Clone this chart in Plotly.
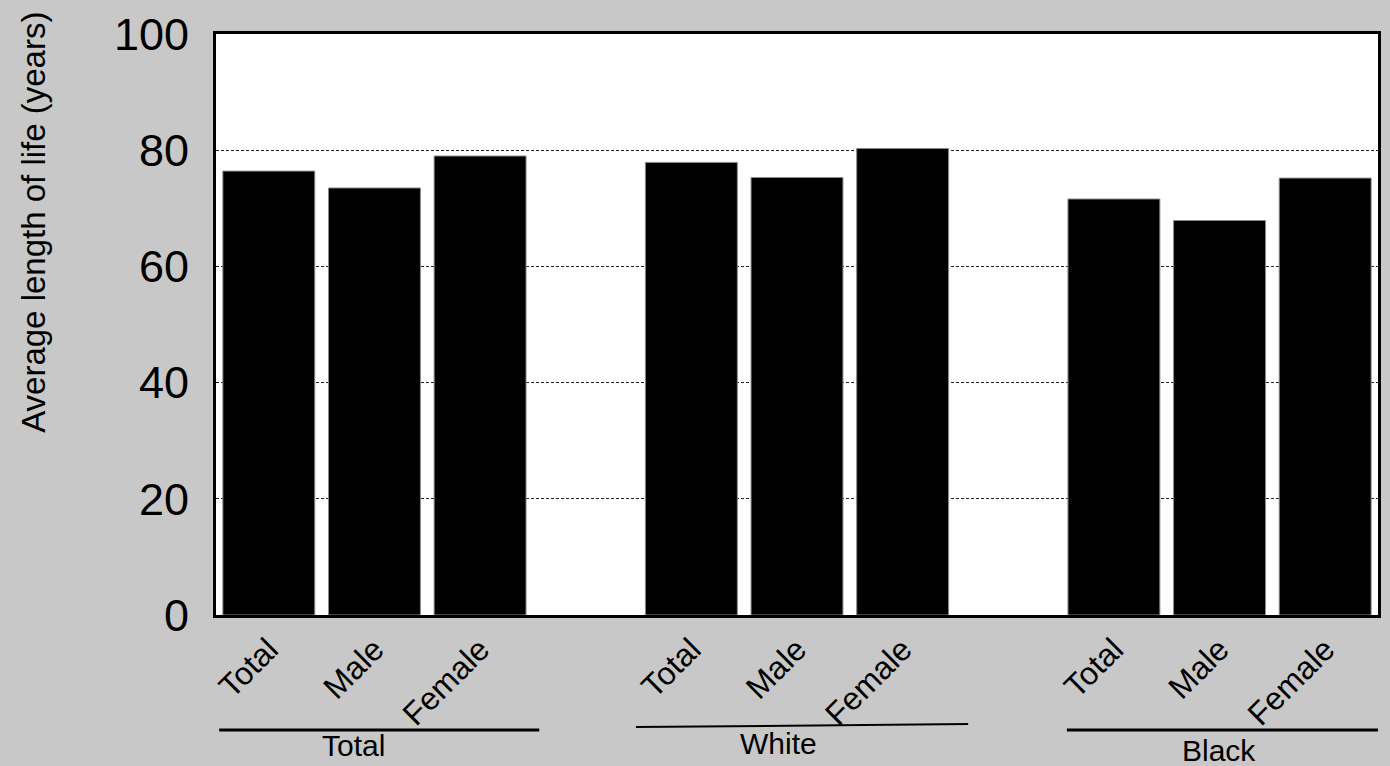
import plotly.graph_objects as go

# Data
groups = ["Total", "White", "Black"]
sexes = ["Total", "Male", "Female"]
total_vals = [76.4, 73.5, 79.0]
white_vals = [77.9, 75.3, 80.3]
black_vals = [71.6, 67.9, 75.2]
y_ticks = [0, 20, 40, 60, 80, 100]

# slot positions: 3 bars, empty slot, 3 bars, empty slot, 3 bars
slots = [0, 1, 2, 4, 5, 6, 8, 9, 10]
values = total_vals + white_vals + black_vals
labels = sexes * 3

BG = "#c8c8c8"

fig = go.Figure()
fig.add_trace(go.Bar(
    x=slots, y=values, width=0.87,
    marker=dict(color="black", line=dict(color="#8a8a8a", width=1)),
    showlegend=False, hoverinfo="skip",
))

fig.update_layout(
    width=1390, height=766,
    paper_bgcolor=BG, plot_bgcolor="white",
    margin=dict(l=216, r=9, t=29, b=151),
    font=dict(family="Liberation Sans, Arial", color="black"),
)
fig.update_xaxes(
    range=[-0.5, 10.5], tickmode="array", tickvals=slots, ticktext=labels,
    tickangle=-45, tickfont=dict(size=32), showgrid=False,
    showline=True, linecolor="black", linewidth=3, mirror=True,
    ticks="", zeroline=False,
)
fig.update_yaxes(
    range=[0, 100], tickmode="array", tickvals=y_ticks,
    tickfont=dict(size=45), ticklabelstandoff=15,
    showgrid=True, gridcolor="#222222", gridwidth=1, griddash="3px,2px",
    showline=True, linecolor="black", linewidth=3, mirror=True,
    ticks="", zeroline=False,
)

def px_to_paper_y(p):
    return (615 - p) / 586.0

# group underline shapes
lines = [
    (-0.47, 2.56, 731, 731, 3),
    (3.475, 6.62, 728, 725, 2),
    (7.555, 10.59, 731, 731, 3),
]
for x0, x1, y0, y1, w in lines:
    fig.add_shape(type="line", xref="x", yref="paper",
                  x0=x0, x1=x1, y0=px_to_paper_y(y0), y1=px_to_paper_y(y1),
                  line=dict(color="black", width=w))

group_pos = [(0.80, 747), (4.826, 745), (8.999, 752)]
for g, (gx, gy) in zip(groups, group_pos):
    fig.add_annotation(text=g, xref="x", yref="paper", x=gx, y=px_to_paper_y(gy),
                       showarrow=False, font=dict(size=30), yanchor="middle")

fig.add_annotation(
    text="Average length of life (years)", textangle=-90,
    xref="paper", yref="paper", x=(33 - 216) / 1165.0, y=px_to_paper_y(219),
    showarrow=False, xanchor="center", yanchor="middle",
    font=dict(size=33),
)

fig.write_html(
    "out.html",
    config={"displayModeBar": False},
    post_script="document.body.style.margin='0';document.body.style.padding='0';"
                "document.body.style.overflow='hidden';document.body.style.background='%s';" % BG,
)
